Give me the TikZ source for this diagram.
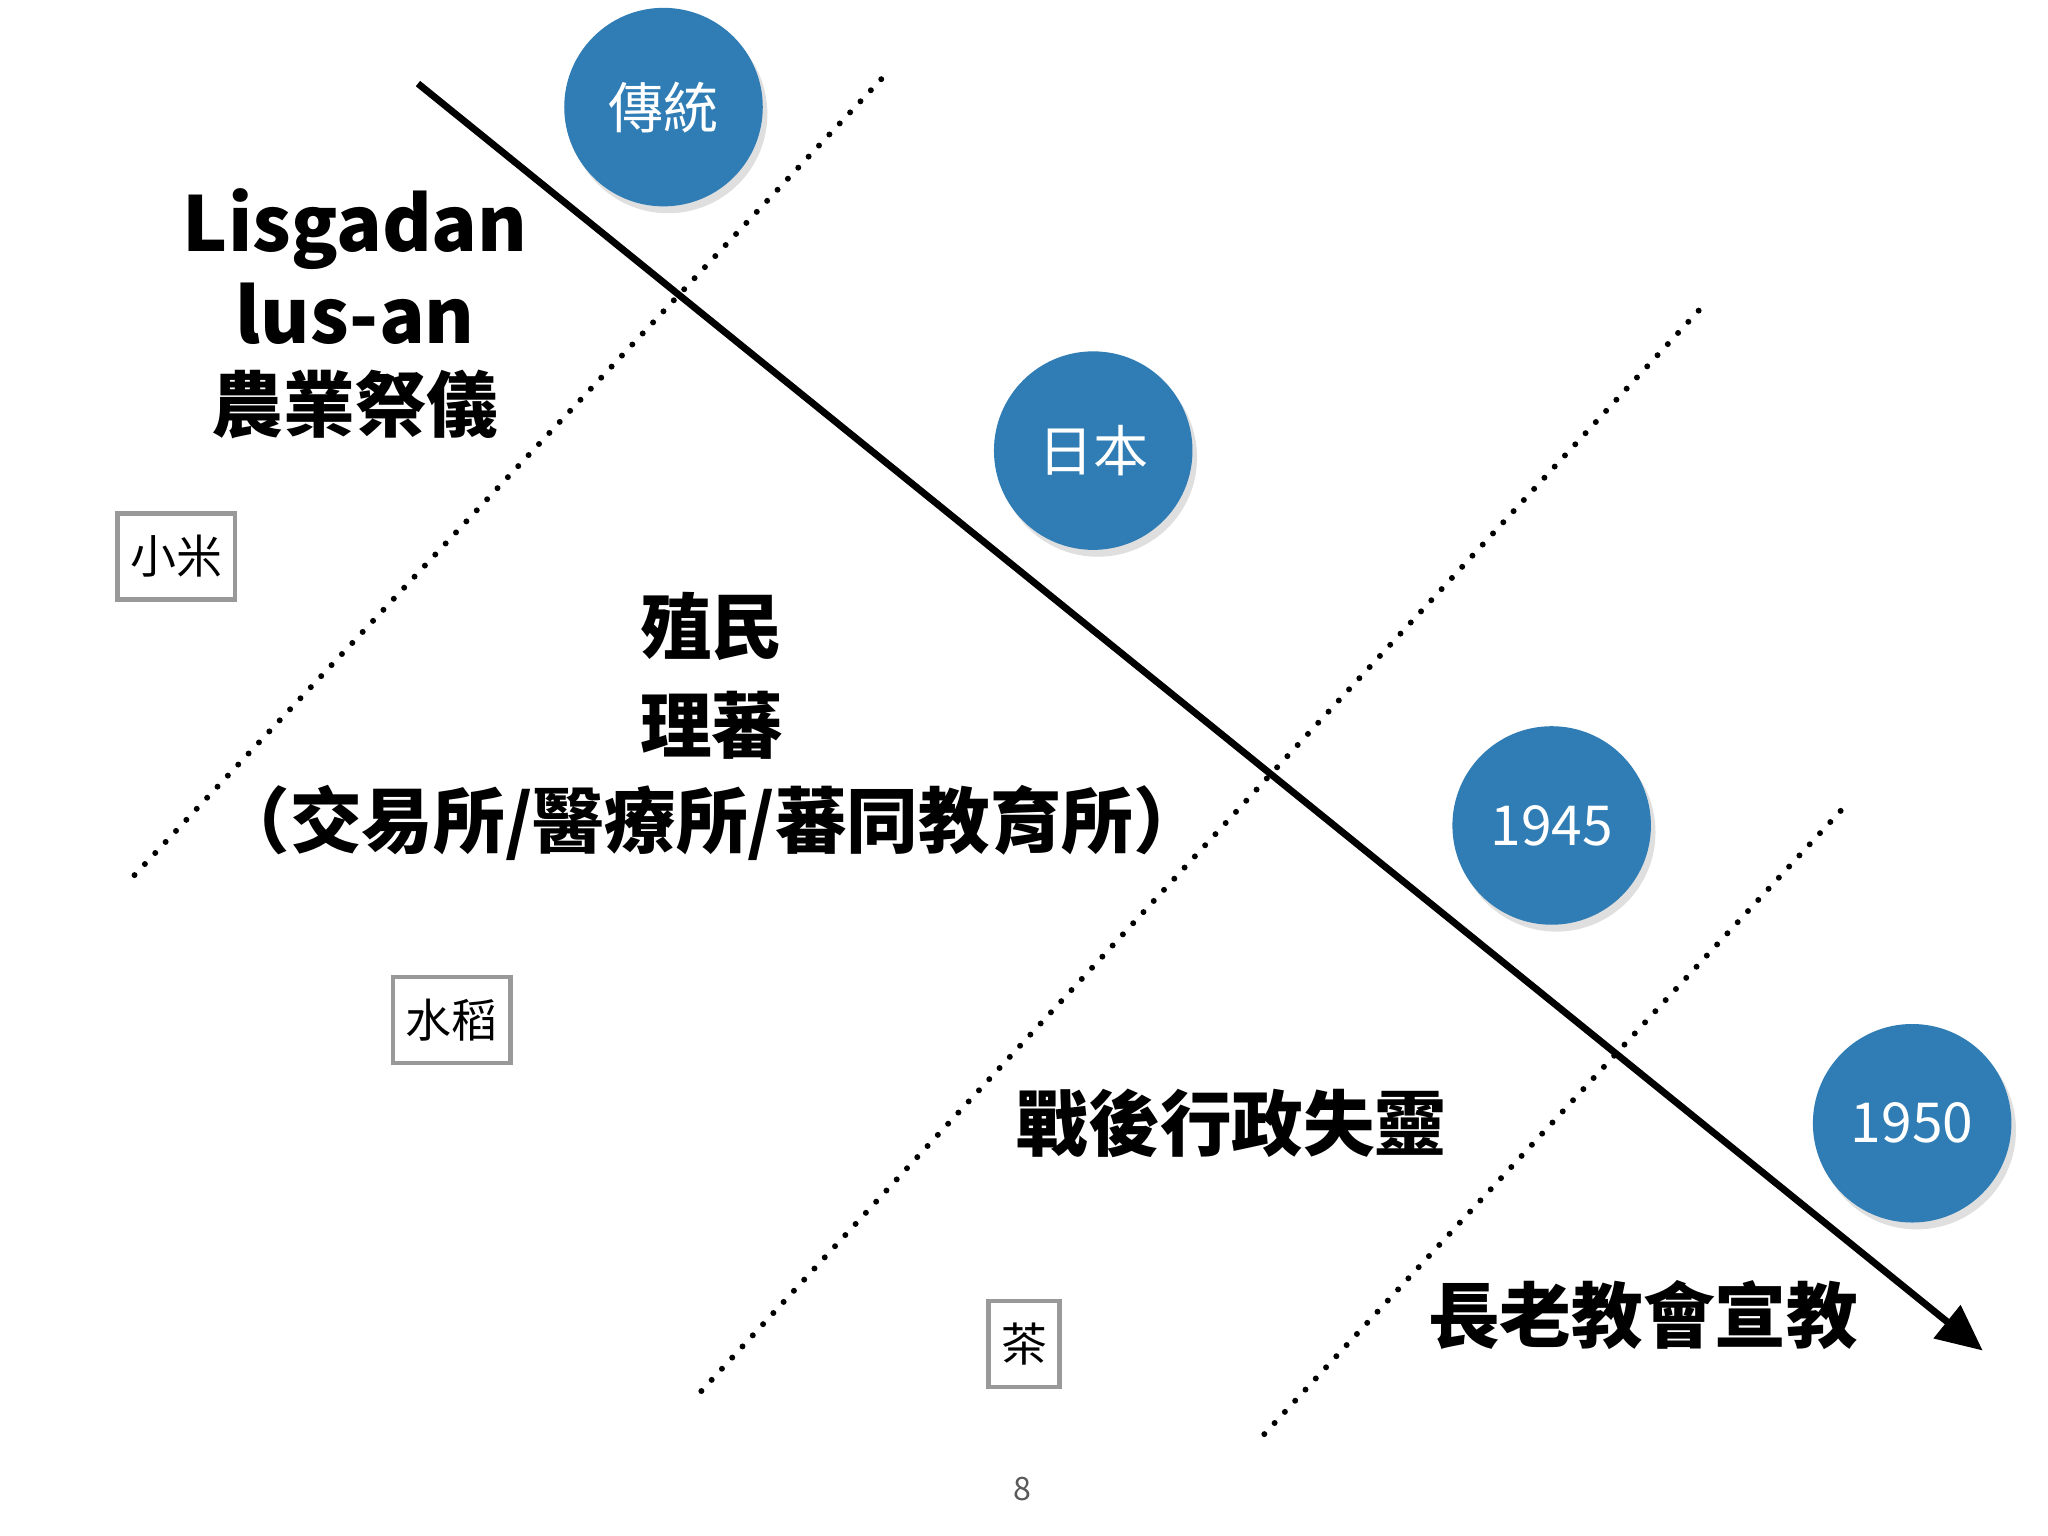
\documentclass[tikz,border=0pt]{standalone}
\usepackage{fontspec}
\setmainfont{Noto Sans CJK TC}
\setsansfont{Noto Sans CJK TC}
\usetikzlibrary{arrows.meta,shadows}
\definecolor{cblue}{RGB}{47,125,180}
\tikzset{
 circ/.style={circle,minimum size=152*0.01cm,inner sep=0pt,fill=cblue,text=white,font=\fontsize{12}{14}\selectfont,drop shadow={opacity=0.25,shadow xshift=1pt,shadow yshift=-1.5pt}},
 big/.style={font=\fontsize{15.6}{18}\selectfont\bfseries},
 boxed/.style={draw=gray!80,line width=1pt,minimum height=66*0.01cm,inner sep=2pt,font=\fontsize{10}{12}\selectfont},
 dots/.style={line width=1.3pt,dash pattern=on 0pt off 3.3pt,line cap=round}
}
\begin{document}
\begin{tikzpicture}[x=0.01cm,y=-0.01cm]
\useasboundingbox (0,0) rectangle (1568,1176);
\coordinate (d1a) at (103,670); \coordinate (d1b) at (680,55);
\coordinate (d2a) at (537,1065); \coordinate (d2b) at (1305,233);
\coordinate (d3a) at (968,1098); \coordinate (d3b) at (1410,620);
\draw[dots] (d1a)--(d1b);
\draw[dots] (d2a)--(d2b);
\draw[dots] (d3a)--(d3b);
\node[circ] (c1) at (508,82) {傳統};
\node[circ] (c2) at (837,345) {日本};
\node[circ] (c3) at (1188,632) {1945};
\node[circ] (c4) at (1464,860) {1950};
\coordinate (as) at (320,64); \coordinate (ae) at (1518,1034);
\draw[line width=1.5pt,-{Triangle[length=10pt,width=9pt]}] (as)--(ae);
\node[font=\fontsize{16.5}{19}\selectfont\bfseries] (t1) at (272,175) {Lisgadan};
\node[font=\fontsize{16.5}{19}\selectfont\bfseries] (t2) at (272,240) {lus-an};
\node[big] (t3) at (272,310) {農業祭儀};
\node[big] (t4) at (545,480) {殖民};
\node[big] (t5) at (545,555) {理蕃};
\node[big] (t6) at (545,630) {（交易所/醫療所/蕃同教育所）};
\node[big] (t7) at (943,860) {戰後行政失靈};
\node[big] (t8) at (1258,1007) {長老教會宣教};
\node[boxed,minimum width=90*0.01cm] (b1) at (135,426) {小米};
\node[boxed,minimum width=90*0.01cm] (b2) at (346,781) {水稻};
\node[boxed,minimum width=54*0.01cm] (b3) at (784,1029) {茶};
\node[font=\fontsize{7}{8}\selectfont,text=gray!70!black] (pg) at (783,1140) {8};
\end{tikzpicture}
\end{document}
